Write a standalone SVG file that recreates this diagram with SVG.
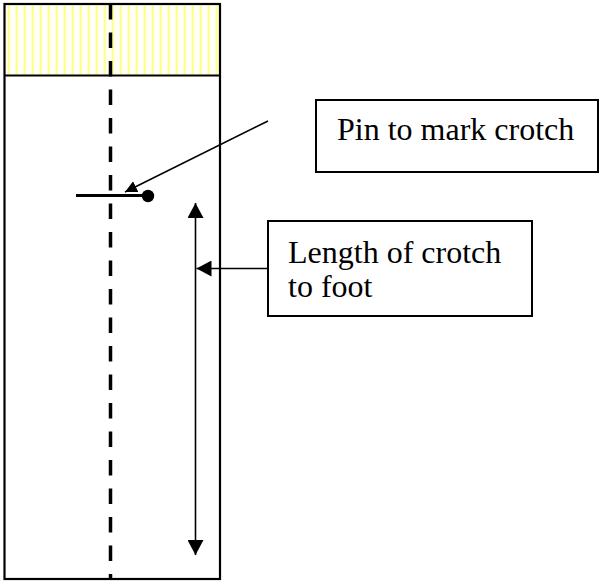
<svg xmlns="http://www.w3.org/2000/svg" width="604" height="581" viewBox="0 0 604 581">
<style>
.box{fill:#fff;stroke:#000;stroke-width:2}
.lbl{font-family:"Liberation Serif","Times New Roman",serif;font-size:32px;fill:#000}
.con{stroke:#000;stroke-width:1.6;fill:none}
</style>
<defs>
<pattern id="hatch" patternUnits="userSpaceOnUse" x="7.5" y="0" width="8" height="10">
<rect x="0" y="0" width="2.5" height="10" fill="#ffff8c"/>
</pattern>
<marker id="ah" markerUnits="userSpaceOnUse" markerWidth="16" markerHeight="16" viewBox="0 0 16 16" refX="15" refY="8" orient="auto">
<path d="M0,0 L15,8 L0,16 Z" fill="#000"/>
</marker>
<marker id="ahs" markerUnits="userSpaceOnUse" markerWidth="13" markerHeight="12" viewBox="0 0 13 12" refX="12" refY="6" orient="auto">
<path d="M0,0 L12,6 L0,12 Z" fill="#000"/>
</marker>
</defs>
<rect width="604" height="581" fill="#fff"/>
<g id="garment">
<rect x="4.5" y="4" width="215.5" height="71.5" fill="url(#hatch)"/>
<rect x="4.5" y="4" width="215.5" height="575" fill="none" stroke="#000" stroke-width="2.2"/>
<line x1="4.5" y1="75.5" x2="220" y2="75.5" stroke="#000" stroke-width="2.2"/>
<line x1="110.5" y1="4" x2="110.5" y2="579" stroke="#000" stroke-width="3.5" stroke-dasharray="15.5 13"/>
</g>
<g id="pin">
<line x1="76" y1="195.5" x2="145" y2="195.5" stroke="#000" stroke-width="3"/>
<circle cx="148" cy="196" r="6.2" fill="#000"/>
</g>
<g id="label-pin">
<rect class="box" x="316" y="100" width="282" height="72"/>
<text class="lbl" x="337" y="140">Pin to mark crotch</text>
</g>
<g id="label-length">
<rect class="box" x="268" y="221" width="264" height="95"/>
<text class="lbl" x="288" y="263">Length of crotch</text>
<text class="lbl" x="288" y="297">to foot</text>
</g>
<g id="connectors">
<line class="con" x1="268" y1="121" x2="125" y2="192" marker-end="url(#ahs)"/>
<line class="con" x1="195.5" y1="380" x2="195.5" y2="203" marker-end="url(#ah)"/>
<line class="con" x1="195.5" y1="380" x2="195.5" y2="555" marker-end="url(#ah)"/>
<line class="con" x1="268" y1="268.5" x2="196.5" y2="268.5" marker-end="url(#ah)"/>
</g>
</svg>
